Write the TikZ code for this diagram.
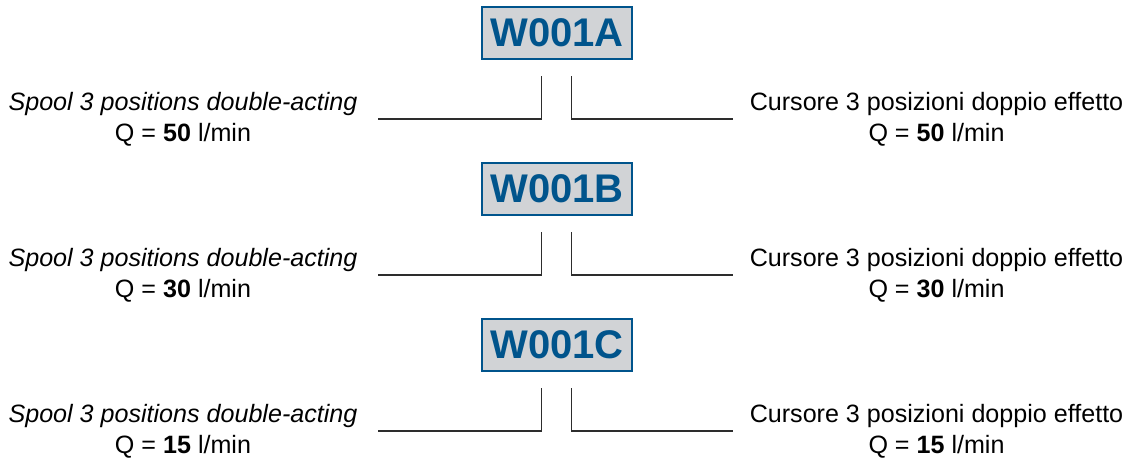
\documentclass[tikz,border=0pt]{standalone}
\usepackage{fontspec}
\setmainfont{Liberation Sans}
\definecolor{codeblue}{RGB}{0,84,140}
\definecolor{codegray}{RGB}{209,211,214}
\definecolor{linegray}{RGB}{45,45,45}
\tikzset{
  codebox/.style={draw=codeblue, line width=2.6pt, fill=codegray, text=codeblue,
    minimum width=150pt, minimum height=52pt, inner sep=0pt,
    font=\fontsize{40}{40}\selectfont\bfseries},
  desc/.style={align=center, inner sep=0pt, text=black,
    font=\fontsize{25.1}{31}\selectfont},
  bracket/.style={draw=linegray, line width=1.3pt}
}
\begin{document}
\begin{tikzpicture}[x=1pt,y=-1pt]
\useasboundingbox (0,0) rectangle (1130,459);
\foreach \n/\lab/\q/\dy in {a/W001A/50/0, b/W001B/30/156, c/W001C/15/312}{
  \node[codebox] (box\n) at (557,33+\dy) {\lab};
  \node[desc] (left\n) at (183,119+\dy) {\itshape Spool 3 positions double-acting\\ Q = \textbf{\q} l/min};
  \node[desc] (right\n) at (936.5,119+\dy) {Cursore 3 posizioni doppio effetto\\ Q = \textbf{\q} l/min};
  \coordinate (lt\n) at (541.7,76+\dy);
  \coordinate (lb\n) at (541.7,119+\dy);
  \coordinate (le\n) at (378,119+\dy);
  \coordinate (rt\n) at (571.7,76+\dy);
  \coordinate (rb\n) at (571.7,119+\dy);
  \coordinate (re\n) at (733,119+\dy);
  \draw[bracket] (lt\n) -- (lb\n) -- (le\n);
  \draw[bracket] (rt\n) -- (rb\n) -- (re\n);
}
\end{tikzpicture}
\end{document}
